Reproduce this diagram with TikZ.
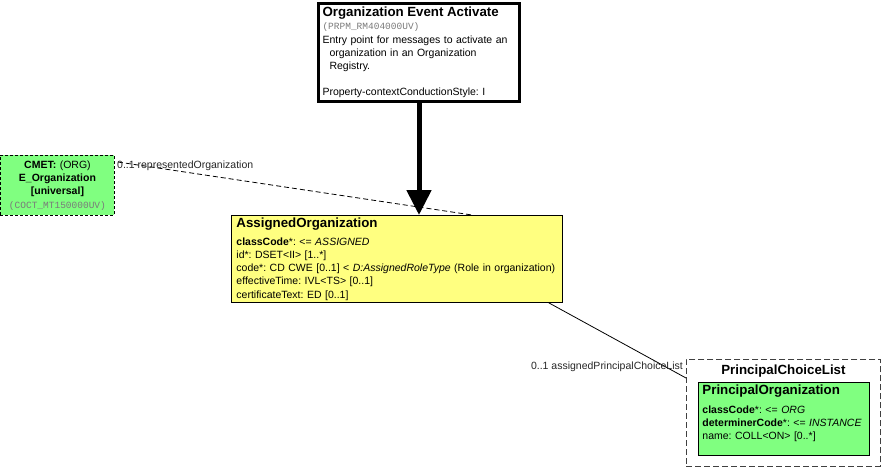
\documentclass[tikz,border=0pt]{standalone}
\usepackage{fontspec}
\setmainfont{Liberation Sans}
\setmonofont{Liberation Mono}
\usetikzlibrary{arrows.meta, positioning}

\definecolor{cmetgreen}{HTML}{80FF80}
\definecolor{clsyellow}{HTML}{FFFF80}
\definecolor{idgray}{HTML}{7A7A7A}

\newcommand{\clstitle}[1]{{\fontsize{13.3}{13}\selectfont\bfseries #1}}
\newcommand{\artifact}[1]{{\fontsize{9.5}{13}\selectfont\ttfamily\color{idgray}#1}}

\begin{document}
\frenchspacing
\begin{tikzpicture}[
    x=1pt, y=-1pt,
    box/.style={rectangle, draw, line width=0.9pt, anchor=north west, align=left, inner xsep=3pt, inner ysep=0pt, font=\fontsize{10.5}{13.2}\selectfont},
    entrybox/.style={box, line width=3pt, fill=white, minimum width=201pt, minimum height=98pt, text width=193pt},
    cmetbox/.style={box, dash pattern=on 3pt off 2pt, align=center, fill=cmetgreen, minimum width=114pt, minimum height=60pt, text width=108pt},
    classbox/.style={box, fill=clsyellow, inner xsep=5pt, minimum width=331pt, minimum height=87pt, text width=321pt},
    choicebox/.style={box, draw=black!75, dash pattern=on 6pt off 3pt, fill=white, minimum width=194pt, minimum height=107pt},
    memberbox/.style={box, fill=cmetgreen, inner xsep=4pt, minimum width=171pt, minimum height=73pt, text width=163pt},
    rolelabel/.style={font=\fontsize{10.5}{11}\selectfont, text=black!85, inner sep=1pt},
    link/.style={line width=0.8pt},
    bigarrow/.style={line width=5pt, -{Triangle[length=25pt, width=24pt]}}
]
\useasboundingbox (0,0) rectangle (881,468);

% Entry point
\node[entrybox] (entry) at (317,2) {\clstitle{Organization Event Activate}\\
    \artifact{(PRPM\_RM404000UV)}\\
    Entry point for messages to activate an\\
    \hspace*{7pt}organization in an Organization\\
    \hspace*{7pt}Registry.\\
    \mbox{}\\
    Property-contextConductionStyle: I};

% CMET
\node[cmetbox] (cmet) at (0,155) {\textbf{CMET:} (ORG)\\
    \textbf{E\_Organization}\\
    \textbf{[universal]}\\
    \artifact{(COCT\_MT150000UV)}};

% Main class
\node[classbox] (assigned) at (231,215) {\clstitle{AssignedOrganization}\\[5pt]
    \textbf{classCode}*: <= \textit{ASSIGNED}\\
    id*: DSET<II> [1..*]\\
    code*: CD CWE [0..1] < \textit{D:AssignedRoleType} (Role in organization)\\
    effectiveTime: IVL<TS> [0..1]\\
    certificateText: ED [0..1]};

% Choice
\node[choicebox] (choice) at (686,359) {};
\node[anchor=north, inner sep=0pt, font=\fontsize{13.3}{13}\selectfont\bfseries] (choicetitle) at ([yshift=-6pt]choice.north) {PrincipalChoiceList};
\node[memberbox] (principal) at (698,382) {\clstitle{PrincipalOrganization}\\[6pt]
    \textbf{classCode}*: <= \textit{ORG}\\
    \textbf{determinerCode}*: <= \textit{INSTANCE}\\
    name: COLL<ON> [0..*]\\
    \mbox{}};

% Arrows
\draw[bigarrow] (entry.south) -- (entry.south |- assigned.north);
\draw[link, dash pattern=on 5pt off 3pt] ([xshift=3pt, yshift=-7pt]cmet.north east) -- ([xshift=241pt]assigned.north west);
\draw[link] ([xshift=-14pt]assigned.south east) -- ([yshift=-19pt]choice.north west);

% Role labels
\node[rolelabel, anchor=west] (reprole) at (116,166) {0..1 representedOrganization};
\node[rolelabel, anchor=east] (choicerole) at (684,367) {0..1 assignedPrincipalChoiceList};

\end{tikzpicture}
\end{document}
